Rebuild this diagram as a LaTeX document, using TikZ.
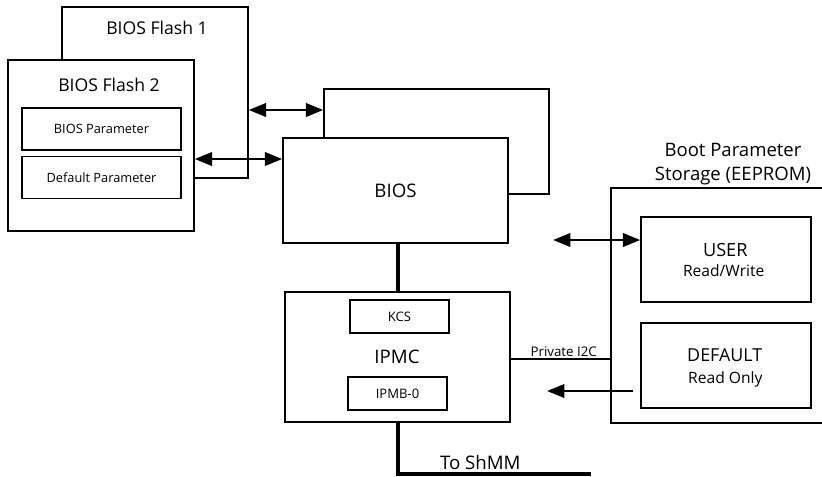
\documentclass[tikz,border=0pt]{standalone}
\usepackage{fontspec}
\setmainfont{Open Sans}
\usetikzlibrary{arrows.meta}
\begin{document}
\begin{tikzpicture}[x=0.75pt,y=-0.75pt,
  box/.style={draw, line width=1.1pt, fill=white, inner sep=0pt},
  flash/.style={box, minimum width=139.5pt, minimum height=128.25pt},
  param/.style={box, minimum width=119.25pt, minimum height=31.5pt, font=\fontsize{9.6}{11}\selectfont},
  biosbox/.style={box, minimum width=168.75pt, minimum height=78.75pt, font=\fontsize{14}{16}\selectfont},
  small/.style={box, minimum width=74.25pt, minimum height=24.75pt, font=\fontsize{9.8}{11}\selectfont},
  store/.style={box, minimum width=127.5pt, minimum height=63.75pt},
  txt/.style={inner sep=0pt, anchor=base},
  tip/.tip={Triangle[length=13pt,width=10pt]},
  dbl/.style={line width=2pt, tip-tip},
  sgl/.style={line width=2pt, -tip},
  conn/.style={line width=2.6pt},
  thinline/.style={line width=1.1pt}]
\useasboundingbox (0,0) rectangle (822,476);

% BIOS flash
\node[flash] (f1) at (155,92.5) {};
\node[txt, font=\fontsize{13.2}{15}\selectfont] (f1t) at (157,34) {BIOS Flash 1};
\node[flash] (f2) at (101,145.5) {};
\node[txt, font=\fontsize{13.2}{15}\selectfont] (f2t) at (109,91.7) {BIOS Flash 2};
\node[param] (bp) at (101.5,129) {BIOS Parameter};
\node[param] (dp) at (101.5,177.5) {Default Parameter};

% BIOS
\node[biosbox] (biosb) at (436.5,141.5) {};
\node[biosbox] (bios) at (395.5,190.5) {BIOS};

% IPMC
\node[box, minimum width=168.75pt, minimum height=97.5pt] (ipmc) at (397.5,357) {};
\node[small] (kcs) at (399.5,316.5) {KCS};
\node[small] (ipmb) at (397.5,393.5) {IPMB-0};
\node[txt, font=\fontsize{14}{16}\selectfont] (ipmct) at (397,363.3) {IPMC};

% EEPROM
\coordinate (etr) at (822,188);
\coordinate (etl) at (611,188);
\coordinate (ebl) at (611,423);
\coordinate (ebr) at (822,423);
\draw[thinline] (etr) -- (etl) -- (ebl) -- (ebr);
\node[txt, font=\fontsize{13.9}{16}\selectfont] (bpt1) at (733,156) {Boot Parameter};
\node[txt, font=\fontsize{13.9}{16}\selectfont] (bpt2) at (733,180) {Storage (EEPROM)};
\node[store] (user) at (726,259.5) {};
\node[txt, font=\fontsize{13.6}{16}\selectfont] (usert) at (725.3,256) {USER};
\node[txt, font=\fontsize{11.7}{14}\selectfont] (userrw) at (723.7,276.7) {Read/Write};
\node[store] (def) at (726,365.5) {};
\node[txt, font=\fontsize{13.4}{16}\selectfont] (deft) at (724.7,361.7) {DEFAULT};
\node[txt, font=\fontsize{11.7}{14}\selectfont] (defro) at (725.3,383.3) {Read Only};

% arrows
\coordinate (ya1) at (0,110);
\draw[dbl] (f1.east |- ya1) -- (biosb.west |- ya1);
\coordinate (ya2) at (0,159);
\draw[dbl] (f2.east |- ya2) -- (bios.west |- ya2);
\coordinate (a3l) at (553,240);
\draw[dbl] (a3l) -- (user.west |- a3l);
\coordinate (a4l) at (547,391);
\coordinate (a4r) at (633,391);
\draw[sgl] (a4r) -- (a4l);

% connectors
\coordinate (cx) at (398,0);
\draw[conn] (bios.south -| cx) -- (ipmc.north -| cx);
\coordinate (sh) at (591,474);
\draw[conn] (ipmc.south -| cx) |- (sh);
\node[txt, font=\fontsize{14}{16}\selectfont] (sht) at (480.3,469.3) {To ShMM};

\coordinate (yi2c) at (0,359);
\draw[line width=0.9pt] (ipmc.east |- yi2c) -- (etl |- yi2c);
\node[txt, font=\fontsize{10}{12}\selectfont] (i2c) at (563.7,356.7) {Private I2C};
\end{tikzpicture}
\end{document}
